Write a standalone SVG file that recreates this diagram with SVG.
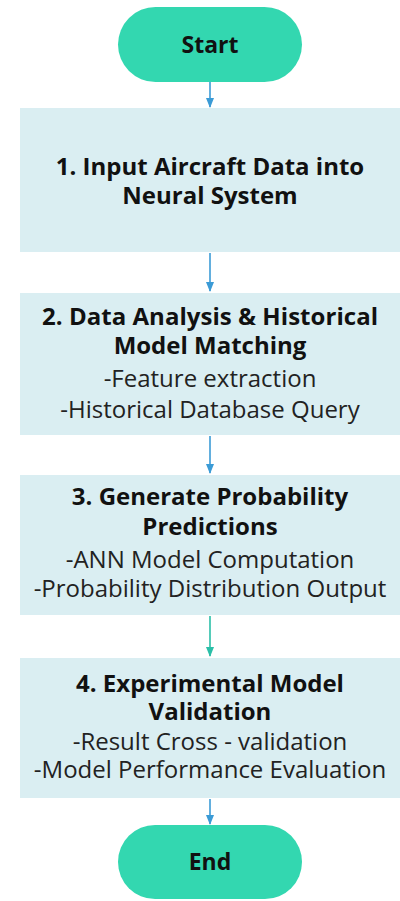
<svg xmlns="http://www.w3.org/2000/svg" width="400" height="901" viewBox="0 0 400 901">
  <style>
    .pill { fill: #33d7b0; }
    .box { fill: #daeef2; }
    .t { font-family: "Open Sans", "Noto Sans", "DejaVu Sans", sans-serif; fill: #111; text-anchor: middle; }
    .b { font-weight: bold; font-size: 24px; }
    .r { font-size: 24px; fill: #222; }
    .pl { font-weight: bold; font-size: 23px; }
    .c { stroke-width: 1.6; fill: none; }
  </style>
  <defs>
    <marker id="ah" markerWidth="10" markerHeight="8" refX="9" refY="4" orient="auto" markerUnits="userSpaceOnUse">
      <path d="M0,0 L10,4 L0,8 Z" fill="#3b9bd6"/>
    </marker>
    <marker id="ahg" markerWidth="10" markerHeight="8" refX="9" refY="4" orient="auto" markerUnits="userSpaceOnUse">
      <path d="M0,0 L10,4 L0,8 Z" fill="#2bbfa8"/>
    </marker>
  </defs>

  <!-- connectors -->
  <g id="connectors">
    <line class="c" x1="210" y1="82" x2="210" y2="107" stroke="#3b9bd6" marker-end="url(#ah)"/>
    <line class="c" x1="210" y1="253" x2="210" y2="291" stroke="#3b9bd6" marker-end="url(#ah)"/>
    <line class="c" x1="210" y1="436" x2="210" y2="473" stroke="#3b9bd6" marker-end="url(#ah)"/>
    <line class="c" x1="210" y1="616" x2="210" y2="656" stroke="#2bbfa8" marker-end="url(#ahg)"/>
    <line class="c" x1="210" y1="799" x2="210" y2="824" stroke="#3b9bd6" marker-end="url(#ah)"/>
  </g>

  <g id="start">
    <rect class="pill" x="118" y="7" width="184" height="75" rx="37.5"/>
    <text class="t pl" x="210" y="53">Start</text>
  </g>

  <g id="step1">
    <rect class="box" x="20" y="108" width="380" height="144"/>
    <text class="t b" x="210" y="175">1. Input Aircraft Data into</text>
    <text class="t b" x="210" y="204">Neural System</text>
  </g>

  <g id="step2">
    <rect class="box" x="20" y="293" width="380" height="142"/>
    <text class="t b" x="210" y="325" textLength="336" lengthAdjust="spacing">2. Data Analysis &amp; Historical</text>
    <text class="t b" x="210" y="354">Model Matching</text>
    <text class="t r" x="210" y="387">-Feature extraction</text>
    <text class="t r" x="210" y="418">-Historical Database Query</text>
  </g>

  <g id="step3">
    <rect class="box" x="20" y="475" width="380" height="140"/>
    <text class="t b" x="210" y="505">3. Generate Probability</text>
    <text class="t b" x="210" y="535">Predictions</text>
    <text class="t r" x="210" y="568">-ANN Model Computation</text>
    <text class="t r" x="210" y="597">-Probability Distribution Output</text>
  </g>

  <g id="step4">
    <rect class="box" x="20" y="658" width="380" height="140"/>
    <text class="t b" x="210" y="692">4. Experimental Model</text>
    <text class="t b" x="210" y="720">Validation</text>
    <text class="t r" x="210" y="750">-Result Cross - validation</text>
    <text class="t r" x="210" y="778">-Model Performance Evaluation</text>
  </g>

  <g id="end">
    <rect class="pill" x="118" y="825" width="184" height="74" rx="37"/>
    <text class="t pl" x="210" y="870">End</text>
  </g>
</svg>
